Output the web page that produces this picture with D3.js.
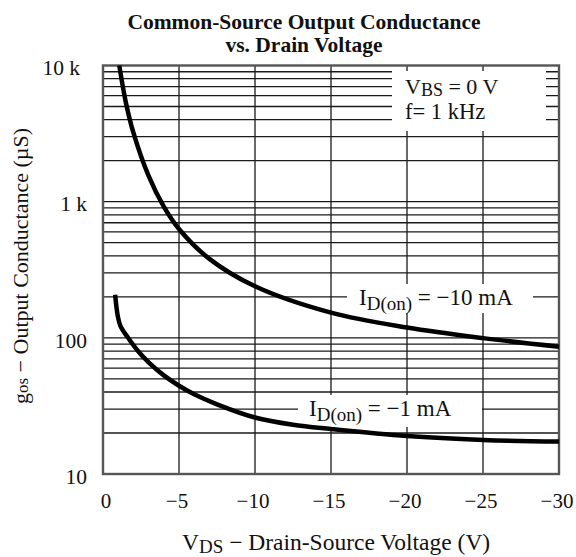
<!DOCTYPE html>
<html>
<head>
<meta charset="utf-8">
<script src="https://cdn.jsdelivr.net/npm/d3@7"></script>
<style>
  html, body { margin: 0; padding: 0; background: #fff; }
  svg text { font-family: "Liberation Serif", "Times New Roman", serif; fill: #111; }
</style>
</head>
<body>
<svg id="chart" width="576" height="557"></svg>
<script>
// ---- data ----
const xTicks = [0, -5, -10, -15, -20, -25, -30];
const xTickLabels = ["0", "\u22125", "\u221210", "\u221215", "\u221220", "\u221225", "\u221230"];
const yTicks = [10, 100, 1000, 10000];
const yTickLabels = ["10", "100", "1 k", "10 k"];

// I_D(on) = -10 mA
const vds10 = [-1.07, -1.5, -2, -3, -4, -5, -7, -10, -15, -20, -25, -30];
const gos10 = [10000, 5380, 3210, 1545, 920, 630, 380, 239, 153, 119, 99.5, 86];

// I_D(on) = -1 mA
const vds1 = [-0.8, -0.88, -0.97, -1.15, -1.65, -2.3, -3.0, -4.0, -5, -6, -7.5, -10, -12.5, -15, -20, -25, -30];
const gos1 = [207, 170, 145, 122, 100, 80, 66, 53, 44.5, 38.5, 32.5, 26, 23, 21.4, 19.0, 17.8, 17.3];

// ---- layout ----
const svg = d3.select("#chart");
const x = d3.scaleLinear().domain([0, -30]).range([103, 559]);
const y = d3.scaleLog().domain([10, 10000]).range([474, 65.5]);

// minor grid values
const minorY = [];
for (let d = 10; d < 10000; d *= 10) {
  for (let k = 1; k <= 9; k++) minorY.push(d * k);
}

const grid = svg.append("g");
grid.selectAll("line.h").data(minorY.filter(v => v > 10)).enter().append("line")
  .attr("x1", x(0)).attr("x2", x(-30))
  .attr("y1", d => y(d)).attr("y2", d => y(d))
  .attr("stroke", "#1a1a1a").attr("stroke-width", 1.3);
grid.selectAll("line.v").data(xTicks.filter(v => v !== 0 && v !== -30)).enter().append("line")
  .attr("x1", d => x(d)).attr("x2", d => x(d))
  .attr("y1", y(10)).attr("y2", y(10000))
  .attr("stroke", "#1a1a1a").attr("stroke-width", 1.3);

// white label backgrounds (grid broken behind labels)
const boxes = [
  {x0: 392, x1: 546, y0: 71, y1: 131},
  {x0: 347, x1: 533, y0: 284, y1: 313},
  {x0: 298, x1: 482, y0: 395, y1: 427}
];
svg.append("g").selectAll("rect").data(boxes).enter().append("rect")
  .attr("x", d => d.x0).attr("y", d => d.y0)
  .attr("width", d => d.x1 - d.x0).attr("height", d => d.y1 - d.y0)
  .attr("fill", "#fff");

// frame
svg.append("rect")
  .attr("x", x(0)).attr("y", y(10000))
  .attr("width", x(-30) - x(0)).attr("height", y(10) - y(10000))
  .attr("fill", "none").attr("stroke", "#555").attr("stroke-width", 2.4);

// curves
const line = d3.line().x(d => x(d[0])).y(d => y(d[1])).curve(d3.curveCatmullRom.alpha(0.5));
svg.append("path").datum(vds10.map((v, i) => [v, gos10[i]]))
  .attr("d", line).attr("fill", "none").attr("stroke", "#000").attr("stroke-width", 4.5);
svg.append("path").datum(vds1.map((v, i) => [v, gos1[i]]))
  .attr("d", line).attr("fill", "none").attr("stroke", "#000").attr("stroke-width", 4.5);

// axis tick labels
svg.append("g").selectAll("text").data(yTicks).enter().append("text")
  .attr("x", d => d === 10000 ? 80 : 87).attr("y", d => y(d)).attr("dy", "0.45em")
  .attr("text-anchor", "end").attr("font-size", 21.5)
  .text((d, i) => yTickLabels[i]);
svg.append("g").selectAll("text").data(xTicks).enter().append("text")
  .attr("x", d => d === 0 ? x(d) + 3 : x(d) - 2).attr("y", 508)
  .attr("text-anchor", "middle").attr("font-size", 21)
  .text((d, i) => xTickLabels[i]);

// title
svg.append("text").attr("x", 304).attr("y", 29).attr("text-anchor", "middle")
  .attr("font-size", 21.5).attr("font-weight", "bold").text("Common-Source Output Conductance");
svg.append("text").attr("x", 304).attr("y", 52).attr("text-anchor", "middle")
  .attr("font-size", 21.5).attr("font-weight", "bold").text("vs. Drain Voltage");

// x axis title
const xt = svg.append("text").attr("x", 182).attr("y", 550).attr("font-size", 23.5);
xt.append("tspan").text("V");
xt.append("tspan").attr("font-size", 19).attr("dy", 3).text("DS");
xt.append("tspan").attr("dy", -3).text(" \u2212 Drain-Source Voltage (V)");

// y axis title
const yt = svg.append("text").attr("transform", "translate(28,404) rotate(-90)")
  .attr("font-size", 22);
yt.append("tspan").text("g");
yt.append("tspan").attr("font-size", 17).text("os");
yt.append("tspan").text(" \u2212 Output Conductance (\u00b5S)");

// condition legend
const l1 = svg.append("text").attr("x", 405).attr("y", 94).attr("font-size", 22);
l1.append("tspan").text("V");
l1.append("tspan").attr("font-size", 18).attr("dy", 2).text("BS");
l1.append("tspan").attr("dy", -2).text(" = 0 V");
svg.append("text").attr("x", 405).attr("y", 119).attr("font-size", 22.5).text("f= 1 kHz");

// curve labels
function idLabel(px, py, val) {
  const t = svg.append("text").attr("x", px).attr("y", py).attr("font-size", 23);
  t.append("tspan").text("I");
  t.append("tspan").attr("font-size", 19).attr("dy", 5).text("D(on)");
  t.append("tspan").attr("dy", -5).text(" = \u2212" + val + " mA");
}
idLabel(359, 305, "10");
idLabel(309, 416, "1");
</script>
</body>
</html>
